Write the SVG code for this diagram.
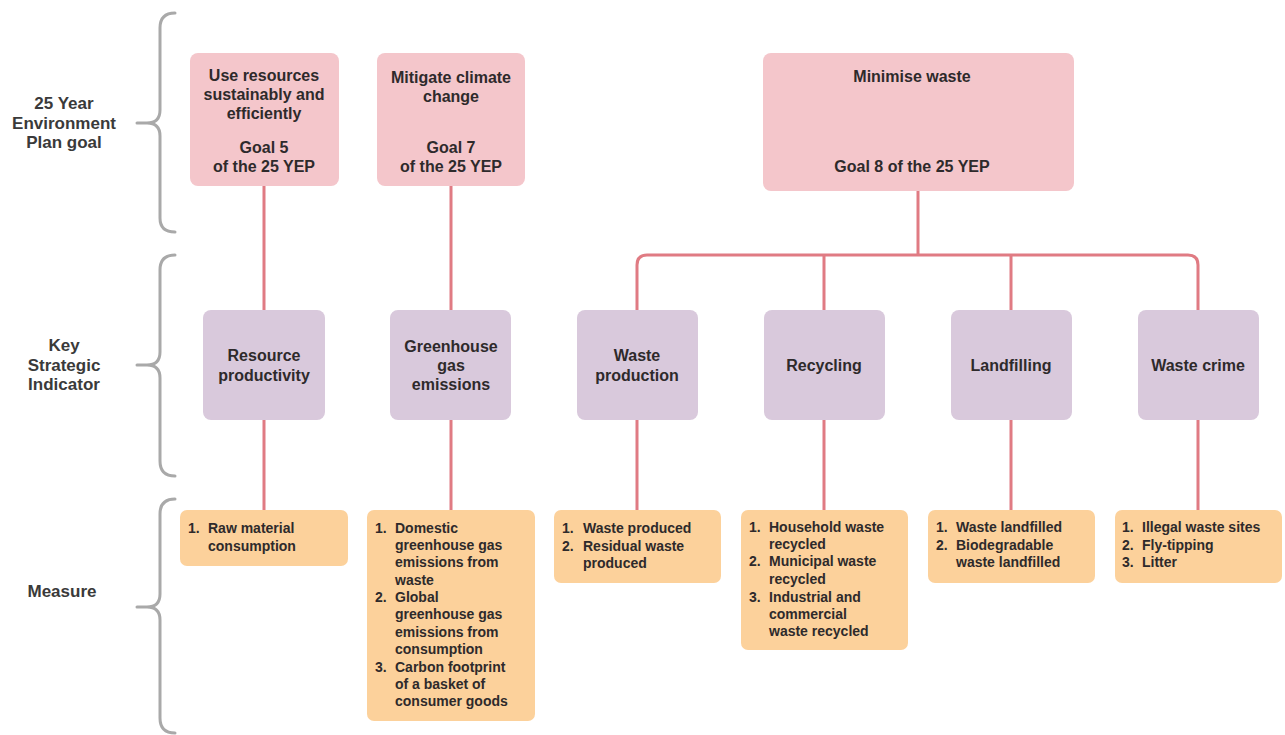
<svg xmlns="http://www.w3.org/2000/svg" width="1285" height="735" viewBox="0 0 1285 735">
<style>
text{font-family:"Liberation Sans",Arial,sans-serif;font-weight:700;fill:#2e2a2b}
.c{text-anchor:middle}
.g{fill:#f4c6cb}
.k{fill:#d9c9dc}
.m{fill:#fcd19b}
.t{font-size:16px}
.s{font-size:14px}
.lab{font-size:17px;font-weight:700;text-anchor:middle;fill:#3a3a3a}
.con{fill:none;stroke:#e07b83;stroke-width:3}
.br{fill:none;stroke:#a9a9a9;stroke-width:3;stroke-linecap:round}
</style>
<rect width="1285" height="735" fill="#ffffff"/>
<g id="braces">
<path class="br" d="M175,13 Q160,13 160,28 L160,110 Q160,123 147,123 L137,123 M147,123 Q160,123 160,136 L160,218 Q160,232 175,232"/>
<path class="br" d="M175,255 Q160,255 160,270 L160,352 Q160,365 147,365 L137,365 M147,365 Q160,365 160,378 L160,461 Q160,476 175,476"/>
<path class="br" d="M175,499 Q160,499 160,514 L160,594 Q160,607 147,607 L137,607 M147,607 Q160,607 160,620 L160,718 Q160,733 175,733"/>
</g>
<g id="labels">
<text class="lab" x="64" y="109">25 Year</text>
<text class="lab" x="64" y="128.5">Environment</text>
<text class="lab" x="64" y="148">Plan goal</text>
<text class="lab" x="64" y="351">Key</text>
<text class="lab" x="64" y="370.5">Strategic</text>
<text class="lab" x="64" y="390">Indicator</text>
<text class="lab" x="62" y="597">Measure</text>
</g>
<g id="connectors">
<path class="con" d="M264,186 V310 M264,420 V510"/>
<path class="con" d="M451,186 V310 M451,420 V510"/>
<path class="con" d="M918,191 V255"/>
<path class="con" d="M637,310 V265 Q637,255 647,255 H1188 Q1198,255 1198,265 V310 M824,255 V310 M1011,255 V310"/>
<path class="con" d="M637,420 V510 M824,420 V510 M1011,420 V510 M1198,420 V510"/>
</g>
<g id="goal5">
<rect class="g" x="190" y="53" width="149" height="133" rx="8"/>
<text class="t c" x="264" y="81">Use resources</text>
<text class="t c" x="264" y="100">sustainably and</text>
<text class="t c" x="264" y="119">efficiently</text>
<text class="t c" x="264" y="153">Goal 5</text>
<text class="t c" x="264" y="172">of the 25 YEP</text>
</g>
<g id="goal7">
<rect class="g" x="377" y="53" width="148" height="133" rx="8"/>
<text class="t c" x="451" y="83">Mitigate climate</text>
<text class="t c" x="451" y="102">change</text>
<text class="t c" x="451" y="153">Goal 7</text>
<text class="t c" x="451" y="172">of the 25 YEP</text>
</g>
<g id="goal8">
<rect class="g" x="763" y="53" width="311" height="138" rx="8"/>
<text class="t c" x="912" y="82">Minimise waste</text>
<text class="t c" x="912" y="172">Goal 8 of the 25 YEP</text>
</g>
<g id="ksi-resource">
<rect class="k" x="203" y="310" width="122" height="110" rx="8"/>
<text class="t c" x="264" y="361">Resource</text>
<text class="t c" x="264" y="381">productivity</text>
</g>
<g id="ksi-ghg">
<rect class="k" x="390" y="310" width="121" height="110" rx="8"/>
<text class="t c" x="451" y="352">Greenhouse</text>
<text class="t c" x="451" y="371">gas</text>
<text class="t c" x="451" y="390">emissions</text>
</g>
<g id="ksi-wasteprod">
<rect class="k" x="577" y="310" width="121" height="110" rx="8"/>
<text class="t c" x="637" y="361">Waste</text>
<text class="t c" x="637" y="381">production</text>
</g>
<g id="ksi-recycling">
<rect class="k" x="764" y="310" width="121" height="110" rx="8"/>
<text class="t c" x="824" y="371">Recycling</text>
</g>
<g id="ksi-landfilling">
<rect class="k" x="951" y="310" width="121" height="110" rx="8"/>
<text class="t c" x="1011" y="371">Landfilling</text>
</g>
<g id="ksi-crime">
<rect class="k" x="1138" y="310" width="121" height="110" rx="8"/>
<text class="t c" x="1198" y="371">Waste crime</text>
</g>
<g id="m-resource">
<rect class="m" x="180" y="510" width="168" height="56" rx="7"/>
<text class="s" x="188" y="533">1.</text>
<text class="s" x="208" y="533">Raw material</text>
<text class="s" x="208" y="551">consumption</text>
</g>
<g id="m-ghg">
<rect class="m" x="367" y="510" width="168" height="211" rx="7"/>
<text class="s" x="375" y="533">1.</text>
<text class="s" x="395" y="533">Domestic</text>
<text class="s" x="395" y="550">greenhouse gas</text>
<text class="s" x="395" y="567">emissions from</text>
<text class="s" x="395" y="585">waste</text>
<text class="s" x="375" y="602">2.</text>
<text class="s" x="395" y="602">Global</text>
<text class="s" x="395" y="619">greenhouse gas</text>
<text class="s" x="395" y="637">emissions from</text>
<text class="s" x="395" y="654">consumption</text>
<text class="s" x="375" y="672">3.</text>
<text class="s" x="395" y="672">Carbon footprint</text>
<text class="s" x="395" y="689">of a basket of</text>
<text class="s" x="395" y="706">consumer goods</text>
</g>
<g id="m-wasteprod">
<rect class="m" x="554" y="510" width="167" height="73" rx="7"/>
<text class="s" x="562" y="533">1.</text>
<text class="s" x="583" y="533">Waste produced</text>
<text class="s" x="562" y="551">2.</text>
<text class="s" x="583" y="551">Residual waste</text>
<text class="s" x="583" y="568">produced</text>
</g>
<g id="m-recycling">
<rect class="m" x="741" y="510" width="167" height="140" rx="7"/>
<text class="s" x="749" y="532">1.</text>
<text class="s" x="769" y="532">Household waste</text>
<text class="s" x="769" y="549">recycled</text>
<text class="s" x="749" y="566">2.</text>
<text class="s" x="769" y="566">Municipal waste</text>
<text class="s" x="769" y="584">recycled</text>
<text class="s" x="749" y="602">3.</text>
<text class="s" x="769" y="602">Industrial and</text>
<text class="s" x="769" y="619">commercial</text>
<text class="s" x="769" y="636">waste recycled</text>
</g>
<g id="m-landfill">
<rect class="m" x="928" y="510" width="167" height="73" rx="7"/>
<text class="s" x="936" y="532">1.</text>
<text class="s" x="956" y="532">Waste landfilled</text>
<text class="s" x="936" y="550">2.</text>
<text class="s" x="956" y="550">Biodegradable</text>
<text class="s" x="956" y="567">waste landfilled</text>
</g>
<g id="m-crime">
<rect class="m" x="1115" y="510" width="167" height="73" rx="7"/>
<text class="s" x="1122" y="532">1.</text>
<text class="s" x="1142" y="532">Illegal waste sites</text>
<text class="s" x="1122" y="550">2.</text>
<text class="s" x="1142" y="550">Fly-tipping</text>
<text class="s" x="1122" y="567">3.</text>
<text class="s" x="1142" y="567">Litter</text>
</g>
</svg>
